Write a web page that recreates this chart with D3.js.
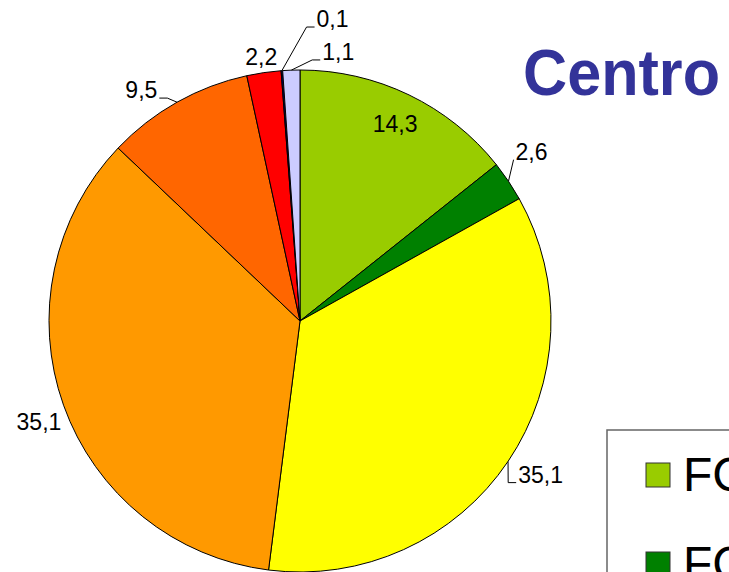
<!DOCTYPE html>
<html>
<head>
<meta charset="utf-8">
<script src="https://cdn.jsdelivr.net/npm/d3@7"></script>
<style>
  body { margin: 0; background: #fff; }
  svg { display: block; }
  text { font-family: "Liberation Sans", Arial, sans-serif; }
</style>
</head>
<body>
<div id="chart"></div>
<script>
// chart data
const categories = ["FC1", "FC2", "FC3", "FC4", "FC5", "FC6", "FC7", "FC8"]
const values = [14.3, 2.6, 35.1, 35.1, 9.5, 2.2, 0.1, 1.1]
const labels = ["14,3", "2,6", "35,1", "35,1", "9,5", "2,2", "0,1", "1,1"]
const colors = ["#99CC00", "#008000", "#FFFF00", "#FF9900", "#FF6600", "#FF0000", "#000080", "#CCCCFF"]

// label placement (nudges off the outside centroid), leaders where excel drew them
const labelShift = [[0, 0], [-3.5, -12], [6, -5], [5.5, 6], [-20, 15.5], [2, 15.5], [53, -20], [48, 13.5]]
const hasLeader = [false, true, true, false, true, false, true, true]

const layout = ({
  width: 729,
  height: 572,
  cx: 300,
  cy: 321,
  r: 251
})

const svg = d3.select("#chart").append("svg")
  .attr("width", layout.width)
  .attr("height", layout.height)

const g = svg.append("g").attr("transform", `translate(${layout.cx}, ${layout.cy})`)

const pie = d3.pie().sort(null).value(d => d)
const arcs = pie(values)

const arc = d3.arc().innerRadius(0).outerRadius(layout.r)
const insideArc = d3.arc().innerRadius(219).outerRadius(219)
const outsideArc = d3.arc().innerRadius(283).outerRadius(283)
const edgeArc = d3.arc().innerRadius(layout.r).outerRadius(layout.r)

g.selectAll("path.slice")
  .data(arcs)
  .join("path")
  .attr("class", "slice")
  .attr("d", arc)
  .attr("fill", (d, i) => colors[i])
  .attr("stroke", "#000")
  .attr("stroke-width", 1)

// labels
const fontSize = 23
const lbl = g.selectAll("text.lbl")
  .data(arcs)
  .join("text")
  .attr("class", "lbl")
  .attr("font-size", fontSize)
  .attr("text-anchor", "middle")
  .attr("fill", "#000")
  .each(function(d, i) {
    const c = i == 0 ? insideArc.centroid(d) : outsideArc.centroid(d)
    d.lx = c[0] + labelShift[i][0]
    d.ly = c[1] + labelShift[i][1]
  })
  .attr("x", d => d.lx)
  .attr("y", d => d.ly + fontSize * 0.36)
  .text((d, i) => labels[i])

// leader lines
lbl.each(function(d, i) {
  if (!hasLeader[i]) return
  const bb = this.getBBox()
  const e = edgeArc.centroid(d)
  const bottom = d.ly + fontSize * 0.36
  const right = d.lx > e[0]
  const nx = right ? bb.x - 2 : bb.x + bb.width + 2
  let pts
  if (Math.abs(nx - e[0]) < 8) {
    // nearly above the edge point: one straight stroke
    pts = [e, [nx, bottom]]
  } else {
    const ex = right ? nx - 8 : nx + 8
    pts = [e, [ex, bottom], [nx, bottom]]
  }
  g.append("path")
    .attr("d", d3.line()(pts))
    .attr("fill", "none")
    .attr("stroke", "#000")
    .attr("stroke-width", 1)
})

// title
svg.append("text")
  .attr("x", 523)
  .attr("y", 95)
  .attr("font-size", 64)
  .attr("font-weight", "bold")
  .attr("fill", "#333399")
  .attr("textLength", 197)
  .attr("lengthAdjust", "spacingAndGlyphs")
  .text("Centro")

// legend (runs off the bottom right of the picture)
const legend = svg.append("g").attr("transform", "translate(607, 430)")
legend.append("rect")
  .attr("x", 0).attr("y", 0)
  .attr("width", 400).attr("height", 780)
  .attr("fill", "#fff")
  .attr("stroke", "#666")
  .attr("stroke-width", 1.5)

const item = legend.selectAll("g.item")
  .data(categories)
  .join("g")
  .attr("class", "item")
  .attr("transform", (d, i) => `translate(39, ${33 + i * 89})`)

item.append("rect")
  .attr("width", 24).attr("height", 24)
  .attr("fill", (d, i) => colors[i])
  .attr("stroke", "#333")
  .attr("stroke-width", 1)

item.append("text")
  .attr("x", 37)
  .attr("y", 28)
  .attr("font-size", 48)
  .attr("fill", "#000")
  .text(d => d)
</script>
</body>
</html>
